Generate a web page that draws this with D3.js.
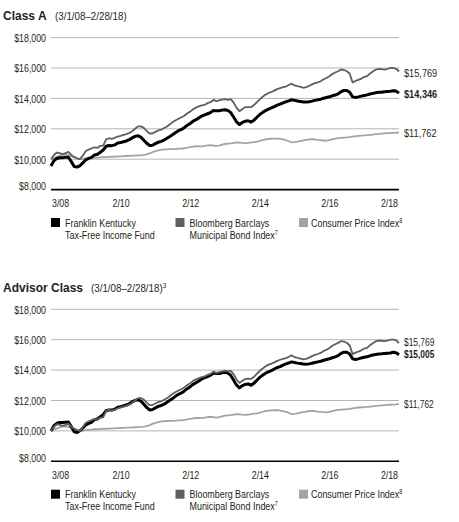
<!DOCTYPE html>
<html><head><meta charset="utf-8">
<script src="https://cdnjs.cloudflare.com/ajax/libs/d3/7.8.5/d3.min.js"></script>
<style>
html,body{margin:0;padding:0;background:#fff;}
svg{display:block;}
text{font-family:"Liberation Sans",Arial,sans-serif;}
</style></head>
<body>
<svg id="c" width="459" height="522"></svg>
<script>
// ---- data (month offsets 0 = 3/1/08 ... 120 = 2/28/18) ----
const tickMonths = [0, 24, 48, 72, 96, 120];
const tickLabels = ["3/08", "2/10", "2/12", "2/14", "2/16", "2/18"];
const yTicks = [8000, 10000, 12000, 14000, 16000, 18000];

const fundClassA = [9558,9900,10050,10100,10100,10120,10130,9840,9520,9480,
9580,9760,9960,10050,10120,10280,10320,10460,10600,10850,
10900,10890,10940,11060,11100,11150,11200,11290,11400,11500,
11540,11450,11250,11050,10900,10920,11020,11120,11170,11260,
11380,11500,11620,11760,11880,11960,12090,12230,12350,12500,
12600,12720,12840,12920,12990,13070,13210,13180,13190,13230,
13250,13210,13060,12760,12450,12280,12420,12500,12530,12440,
12570,12760,12940,13080,13200,13290,13370,13460,13560,13620,
13710,13780,13840,13910,13870,13830,13800,13770,13760,13780,
13820,13870,13910,13950,14010,14060,14110,14170,14220,14300,
14440,14520,14520,14400,14100,14060,14100,14150,14190,14230,
14290,14330,14370,14400,14410,14430,14450,14470,14500,14480,14346];

const fundAdvisor = [10000,10340,10500,10550,10550,10570,10580,10280,9940,9900,
10010,10190,10400,10500,10570,10740,10780,10930,11070,11330,
11380,11370,11430,11550,11590,11650,11700,11790,11910,12010,
12050,11960,11750,11540,11380,11410,11510,11610,11670,11760,
11890,12020,12140,12290,12410,12500,12630,12780,12910,13060,
13170,13290,13420,13500,13570,13660,13800,13770,13780,13830,
13850,13800,13650,13330,13010,12830,12980,13060,13090,13000,
13140,13330,13520,13670,13790,13890,13970,14070,14170,14230,
14330,14410,14470,14540,14500,14460,14430,14400,14390,14410,
14450,14500,14540,14580,14650,14700,14750,14810,14870,14950,
15100,15180,15180,15060,14740,14700,14740,14800,14840,14880,
14940,14990,15030,15060,15070,15090,15110,15130,15170,15140,15005];

const muniIndex = [10000,10280,10440,10400,10330,10400,10480,10280,10150,10060,
10000,10250,10540,10630,10720,10780,10740,10880,10890,11300,
11380,11340,11400,11490,11540,11600,11650,11730,11840,12000,
12160,12160,12060,11860,11690,11700,11800,11890,11940,12050,
12150,12300,12440,12560,12660,12760,12860,13020,13130,13290,
13390,13480,13540,13580,13690,13750,13900,13820,13870,13920,
13960,13910,13950,13720,13380,13160,13300,13420,13430,13420,
13560,13760,13940,14110,14250,14360,14420,14510,14610,14680,
14740,14780,14880,14970,14850,14800,14760,14700,14740,14820,
14920,15000,15060,15130,15260,15340,15460,15600,15700,15790,
15900,15870,15800,15620,15050,15150,15220,15300,15420,15460,
15640,15770,15900,15940,15930,15900,15940,16000,16000,15950,15769];

const cpi = [10000,10080,10160,10230,10290,10300,10260,10200,10130,10050,
10000,10020,10050,10070,10090,10110,10110,10120,10130,10140,
10150,10160,10170,10180,10190,10200,10210,10220,10230,10240,
10250,10260,10280,10320,10380,10460,10530,10580,10620,10640,
10650,10660,10660,10670,10690,10700,10720,10760,10790,10830,
10860,10850,10840,10870,10910,10930,10900,10870,10900,10960,
11000,11020,11040,11070,11100,11090,11070,11060,11080,11100,
11130,11160,11200,11260,11310,11330,11350,11360,11360,11340,
11300,11250,11180,11110,11120,11160,11200,11230,11270,11310,
11320,11300,11270,11250,11230,11220,11250,11300,11350,11380,
11400,11420,11430,11450,11480,11510,11540,11550,11570,11580,
11600,11620,11650,11660,11680,11700,11710,11720,11730,11740,11762];

const seriesNames = ["Franklin Kentucky|Tax-Free Income Fund", "Bloomberg Barclays|Municipal Bond Index", "Consumer Price Index"];
const seriesSup = ["", "7", "8"];
const seriesColors = ["#000000", "#5f5f5f", "#a3a3a3"];

// ---- drawing ----
const svg = d3.select("#c");
const TXT = "#231f20";
const fmt = d3.format("$,");
const SX = 0.8; // horizontal condensing for the narrow typeface look

// condensed text helper
function ctext(parent, x, y, str, opts) {
  opts = opts || {};
  const g = parent.append("g").attr("transform", `translate(${x},${y}) scale(${opts.sx || SX},1)`);
  const t = g.append("text").attr("x",0).attr("y",0)
    .attr("font-size", opts.size || 11)
    .attr("font-weight", opts.bold ? "bold" : "normal")
    .attr("text-anchor", opts.anchor || "start")
    .attr("dy", opts.dy || null)
    .attr("fill", TXT).text(str);
  return t;
}

function drawChart(top, title, subtitle, subSup, subX, fund, endNudge, endSize) {
  const g = svg.append("g").attr("transform", `translate(0,${top})`);
  const x = d3.scaleLinear().domain([0, 120]).range([51, 399]);
  const y = d3.scaleLinear().domain([8000, 18000]).range([189.6, 37.6]);

  // title
  g.append("text").attr("x",3).attr("y",20)
    .attr("font-size",12).attr("font-weight","bold").attr("fill",TXT).text(title);
  const st = ctext(g, subX, 20, subtitle, {size: 11.5, sx: 0.85});
  if (subSup) st.append("tspan").attr("font-size",7.5).attr("dy",-4).text(subSup);

  // grid
  g.append("g").selectAll("line").data(yTicks.filter(d=>d>8000)).join("line")
    .attr("x1",51).attr("x2",399).attr("y1",d=>y(d)).attr("y2",d=>y(d))
    .attr("stroke","#b5b5b5").attr("stroke-width",1);

  // y labels
  yTicks.forEach(d => {
    ctext(g, 46, y(d) + (d===8000 ? -3.5 : 0.5), fmt(d), {anchor:"end", dy:"0.35em", size: 11});
  });

  // x axis line + labels
  g.append("line").attr("x1",51).attr("x2",399).attr("y1",y(8000)).attr("y2",y(8000))
    .attr("stroke","#000").attr("stroke-width",1.6);
  tickMonths.forEach((d,i) => {
    const anchor = i===0 ? "start" : (i===tickMonths.length-1 ? "end" : "middle");
    ctext(g, x(d) + (i===0 ? 1 : (i===tickMonths.length-1 ? -1 : 0.5)), 207, tickLabels[i], {anchor, size: 11});
  });

  const line = d3.line().x((d,i)=>x(i)).y(d=>y(d));
  const lines = [
    {data: cpi, color: seriesColors[2], w: 1.8},
    {data: fund, color: seriesColors[0], w: 3},
    {data: muniIndex, color: seriesColors[1], w: 1.8}
  ];
  g.append("g").selectAll("path").data(lines).join("path")
    .attr("d",d=>line(d.data)).attr("fill","none")
    .attr("stroke",d=>d.color).attr("stroke-width",d=>d.w)
    .attr("stroke-linejoin","round");

  // end labels
  const ends = [
    {v: muniIndex[120], bold:false, dy: endNudge[0]},
    {v: fund[120], bold:true, dy: endNudge[1]},
    {v: cpi[120], bold:false, dy: endNudge[2]}
  ];
  ends.forEach(e => {
    ctext(g, 404, y(e.v) + e.dy, fmt(e.v), {size: endSize, bold: e.bold, dy: "0.35em", sx: 0.8});
  });

  // legend
  const lx = [51, 175.5, 299];
  seriesNames.forEach((d,i) => {
    const lg = g.append("g").attr("transform", `translate(${lx[i]},218)`);
    lg.append("rect").attr("width",9).attr("height",9).attr("fill",seriesColors[i]);
    const parts = d.split("|");
    parts.forEach((p,j) => {
      const t = ctext(lg, i===2 ? 12 : 14, 8.5 + j*12, p, {size: 11.3, sx: 0.79});
      if (j===parts.length-1 && seriesSup[i]) {
        t.append("tspan").attr("font-size",7).attr("dy",-4).text(seriesSup[i]);
      }
    });
  });
}

drawChart(0, "Class A", "(3/1/08–2/28/18)", "", 55, fundClassA, [1, 1, 1], 11.5);
drawChart(271.7, "Advisor Class", "(3/1/08–2/28/18)", "3", 91, fundAdvisor, [-0.8, -0.8, 0.5], 10.5);
</script>
</body></html>
